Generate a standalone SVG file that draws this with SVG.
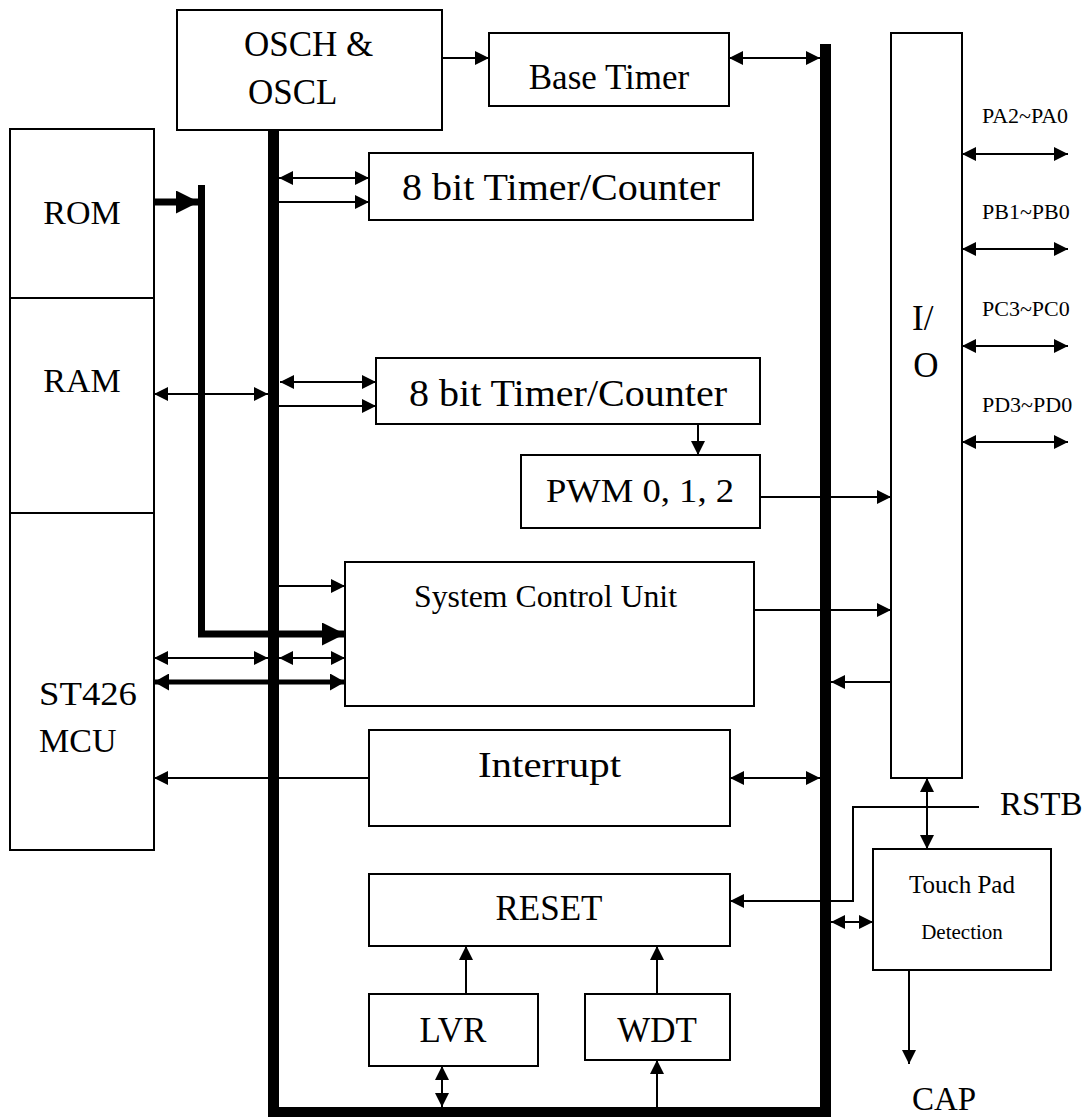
<svg xmlns="http://www.w3.org/2000/svg" width="1091" height="1117" viewBox="0 0 1091 1117">
<style>
.box{fill:#fff;stroke:#000;stroke-width:2}
.ln{fill:none;stroke:#000;stroke-width:2}
.t{font-family:"Liberation Serif","Times New Roman",serif;fill:#000}
.bus{fill:#000}
</style>
<defs>
<marker id="a" markerUnits="userSpaceOnUse" markerWidth="14" markerHeight="14" refX="14" refY="7" orient="auto-start-reverse"><path d="M0,0 L14,7 L0,14 z" fill="#000"/></marker>
<marker id="m" markerUnits="userSpaceOnUse" markerWidth="15" markerHeight="17" refX="15" refY="8.5" orient="auto-start-reverse"><path d="M0,0 L15,8.5 L0,17 z" fill="#000"/></marker>
<marker id="b" markerUnits="userSpaceOnUse" markerWidth="23" markerHeight="23" refX="23" refY="11.5" orient="auto-start-reverse"><path d="M0,0 L23,11.5 L0,23 z" fill="#000"/></marker>
</defs>

<g id="mem">
<rect class="box" x="10" y="129" width="144" height="721"/>
<line class="ln" x1="10" y1="298" x2="154" y2="298"/>
<line class="ln" x1="10" y1="513" x2="154" y2="513"/>
<text class="t" x="82" y="224" font-size="34" text-anchor="middle">ROM</text>
<text class="t" x="82" y="392" font-size="34" text-anchor="middle">RAM</text>
<text class="t" x="39" y="705" font-size="34" textLength="98" lengthAdjust="spacingAndGlyphs">ST426</text>
<text class="t" x="39" y="752" font-size="34">MCU</text>
</g>

<g id="osc">
<rect class="box" x="177" y="10" width="265" height="120"/>
<text class="t" x="244" y="56" font-size="35">OSCH &amp;</text>
<text class="t" x="248" y="104" font-size="35">OSCL</text>
</g>

<g id="basetimer">
<rect class="box" x="489" y="33" width="240" height="73"/>
<text class="t" x="609" y="89" font-size="35" text-anchor="middle">Base Timer</text>
</g>

<g id="timer1">
<rect class="box" x="369" y="153" width="384" height="67"/>
<text class="t" x="402" y="200" font-size="37" textLength="318" lengthAdjust="spacingAndGlyphs">8 bit Timer/Counter</text>
</g>

<g id="timer2">
<rect class="box" x="376" y="358" width="384" height="66"/>
<text class="t" x="409" y="406" font-size="37" textLength="318" lengthAdjust="spacingAndGlyphs">8 bit Timer/Counter</text>
</g>

<g id="pwm">
<rect class="box" x="521" y="455" width="239" height="73"/>
<text class="t" x="546" y="502" font-size="34" textLength="188" lengthAdjust="spacingAndGlyphs">PWM 0, 1, 2</text>
</g>

<g id="scu">
<rect class="box" x="345" y="562" width="409" height="144"/>
<text class="t" x="414" y="607" font-size="32" textLength="263" lengthAdjust="spacingAndGlyphs">System Control Unit</text>
</g>

<g id="interrupt">
<rect class="box" x="369" y="730" width="361" height="96"/>
<text class="t" x="478" y="777" font-size="35" textLength="143" lengthAdjust="spacingAndGlyphs">Interrupt</text>
</g>

<g id="reset">
<rect class="box" x="369" y="874" width="361" height="72"/>
<text class="t" x="549" y="920" font-size="35" text-anchor="middle">RESET</text>
</g>

<g id="lvr">
<rect class="box" x="369" y="994" width="169" height="72"/>
<text class="t" x="453" y="1042" font-size="35" text-anchor="middle">LVR</text>
</g>

<g id="wdt">
<rect class="box" x="585" y="994" width="145" height="66"/>
<text class="t" x="657" y="1042" font-size="35" text-anchor="middle">WDT</text>
</g>

<g id="io">
<rect class="box" x="891" y="33" width="71" height="745"/>
<text class="t" x="912" y="330" font-size="35">I/</text>
<text class="t" x="926" y="377" font-size="35" text-anchor="middle">O</text>
<text class="t" x="982" y="123" font-size="22">PA2~PA0</text>
<text class="t" x="982" y="219" font-size="22">PB1~PB0</text>
<text class="t" x="982" y="316" font-size="22">PC3~PC0</text>
<text class="t" x="982" y="412" font-size="22">PD3~PD0</text>
</g>

<g id="touchpad">
<rect class="box" x="873" y="849" width="178" height="121"/>
<text class="t" x="962" y="893" font-size="25" text-anchor="middle">Touch Pad</text>
<text class="t" x="962" y="939" font-size="21" text-anchor="middle">Detection</text>
</g>

<g id="labels">
<text class="t" x="1000" y="815" font-size="33">RSTB</text>
<text class="t" x="912" y="1110" font-size="33">CAP</text>
</g>

<g id="connectors">
<rect class="bus" x="268" y="130" width="11" height="987"/>
<rect class="bus" x="820" y="44" width="11" height="1073"/>
<rect class="bus" x="268" y="1107" width="563" height="10"/>

<line class="ln" x1="442" y1="58" x2="489" y2="58" marker-end="url(#a)"/>
<line class="ln" x1="729" y1="58" x2="820" y2="58" marker-start="url(#a)" marker-end="url(#a)"/>
<line class="ln" x1="279" y1="178" x2="369" y2="178" marker-start="url(#a)" marker-end="url(#a)"/>
<line class="ln" x1="279" y1="202" x2="369" y2="202" marker-end="url(#a)"/>

<line x1="154" y1="202" x2="199" y2="202" stroke="#000" stroke-width="7" marker-end="url(#b)"/>
<path d="M201.5,185 V634 H345" fill="none" stroke="#000" stroke-width="7" marker-end="url(#b)"/>

<line class="ln" x1="154" y1="394" x2="268" y2="394" marker-start="url(#a)" marker-end="url(#a)"/>
<line class="ln" x1="280" y1="382" x2="376" y2="382" marker-start="url(#a)" marker-end="url(#a)"/>
<line class="ln" x1="279" y1="406" x2="376" y2="406" marker-end="url(#a)"/>
<line class="ln" x1="698" y1="424" x2="698" y2="455" marker-end="url(#a)"/>
<line class="ln" x1="760" y1="497" x2="891" y2="497" marker-end="url(#a)"/>
<line class="ln" x1="279" y1="586" x2="345" y2="586" marker-end="url(#a)"/>
<line class="ln" x1="754" y1="610" x2="891" y2="610" marker-end="url(#a)"/>
<line class="ln" x1="891" y1="682" x2="831" y2="682" marker-end="url(#a)"/>
<line class="ln" x1="154" y1="658" x2="268" y2="658" marker-start="url(#a)" marker-end="url(#a)"/>
<line class="ln" x1="279" y1="658" x2="345" y2="658" marker-start="url(#a)" marker-end="url(#a)"/>
<line x1="154" y1="682" x2="345" y2="682" stroke="#000" stroke-width="5" marker-start="url(#m)" marker-end="url(#m)"/>
<line class="ln" x1="369" y1="778" x2="154" y2="778" marker-end="url(#a)"/>
<line class="ln" x1="730" y1="778" x2="820" y2="778" marker-start="url(#a)" marker-end="url(#a)"/>
<line class="ln" x1="927" y1="778" x2="927" y2="849" marker-start="url(#a)" marker-end="url(#a)"/>
<path class="ln" d="M979,807 H853 V901 H730" marker-end="url(#a)"/>
<line class="ln" x1="831" y1="922" x2="873" y2="922" marker-start="url(#a)" marker-end="url(#a)"/>
<line class="ln" x1="909" y1="970" x2="909" y2="1064" marker-end="url(#a)"/>
<line class="ln" x1="466" y1="994" x2="466" y2="946" marker-end="url(#a)"/>
<line class="ln" x1="657" y1="994" x2="657" y2="946" marker-end="url(#a)"/>
<line class="ln" x1="442" y1="1066" x2="442" y2="1107" marker-start="url(#a)" marker-end="url(#a)"/>
<line class="ln" x1="657" y1="1107" x2="657" y2="1060" marker-end="url(#a)"/>

<line class="ln" x1="962" y1="154" x2="1068" y2="154" marker-start="url(#a)" marker-end="url(#a)"/>
<line class="ln" x1="962" y1="249" x2="1068" y2="249" marker-start="url(#a)" marker-end="url(#a)"/>
<line class="ln" x1="962" y1="346" x2="1068" y2="346" marker-start="url(#a)" marker-end="url(#a)"/>
<line class="ln" x1="962" y1="442" x2="1068" y2="442" marker-start="url(#a)" marker-end="url(#a)"/>
</g>
</svg>
